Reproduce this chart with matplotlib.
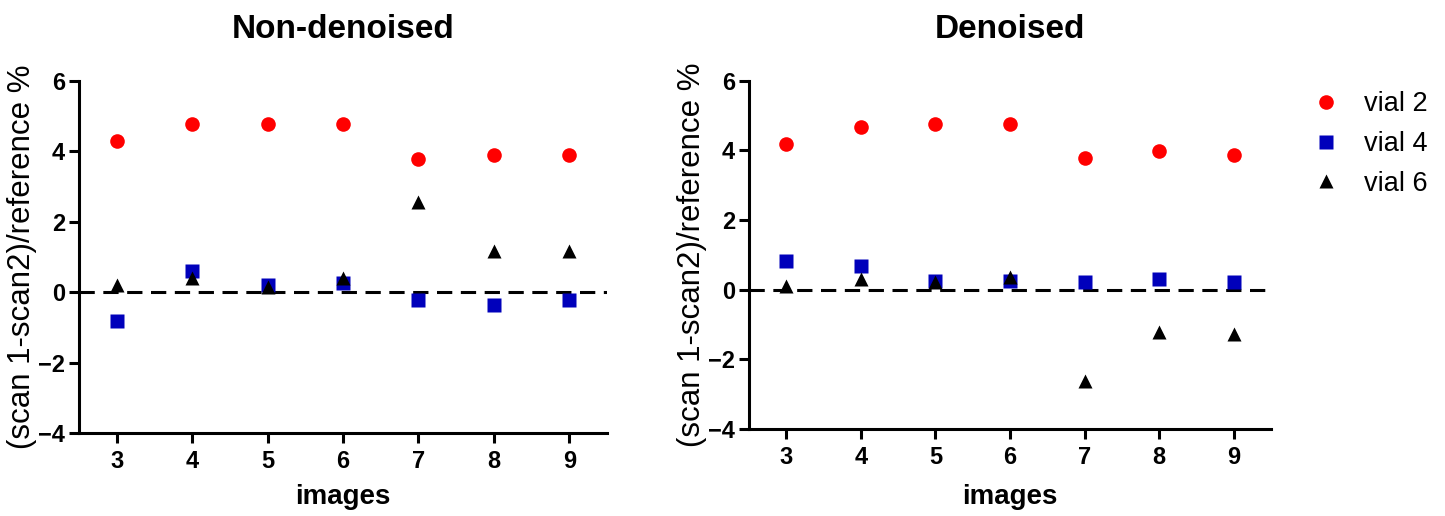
import matplotlib
matplotlib.use('Agg')
import matplotlib.pyplot as plt

plt.rcParams['font.family'] = ['Liberation Sans', 'DejaVu Sans']

images = [3, 4, 5, 6, 7, 8, 9]
labels = ['vial 2', 'vial 4', 'vial 6']

# non-denoised
nd_vial2 = [4.28, 4.78, 4.78, 4.78, 3.79, 3.88, 3.88]
nd_vial4 = [-0.83, 0.59, 0.21, 0.25, -0.23, -0.38, -0.23]
nd_vial6 = [0.20, 0.41, 0.14, 0.39, 2.57, 1.16, 1.16]

# denoised
d_vial2 = [4.17, 4.68, 4.77, 4.77, 3.78, 3.98, 3.87]
d_vial4 = [0.81, 0.68, 0.25, 0.25, 0.21, 0.32, 0.21]
d_vial6 = [0.12, 0.32, 0.21, 0.36, -2.61, -1.22, -1.27]

W, H = 1445, 516
fig = plt.figure(figsize=(W / 100, H / 100), dpi=100)

styles = [dict(marker='o', color='#ff0000', ms=10.5),
          dict(marker='s', color='#0000bb', ms=10),
          dict(marker='^', color='black', ms=10)]


def panel(rect, series, title, title_x, label_x):
    ax = fig.add_axes(rect)
    ax.axhline(0, color='black', lw=2.2, ls=(0, (5, 2.8)), zorder=1)
    handles = []
    for y, st, lab in zip(series, styles, labels):
        h, = ax.plot(images, y, ls='none', mec='none', label=lab, zorder=3,
                     marker=st['marker'], color=st['color'], ms=st['ms'])
        handles.append(h)
    ax.set_xlim(2.5, 9.5)
    ax.set_ylim(-4, 6)
    ax.set_xticks(images)
    ax.set_yticks([-4, -2, 0, 2, 4, 6])
    for s in ['top', 'right']:
        ax.spines[s].set_visible(False)
    for s in ['left', 'bottom']:
        ax.spines[s].set_linewidth(2.2)
    ax.tick_params(width=2.2, length=7, labelsize=17, pad=3)
    ax.tick_params(axis='x', pad=5)
    for t in ax.get_xticklabels() + ax.get_yticklabels():
        t.set_fontweight('bold')
    ax.set_ylabel('(scan 1-scan2)/reference %', fontsize=22.5, va='center')
    ax.yaxis.set_label_coords(label_x, 0.5)
    fig.text(title_x / W, 1 - 38 / H, title, fontsize=24, fontweight='bold',
             ha='center', va='baseline')
    fig.text(title_x / W, 1 - 504 / H, 'images', fontsize=20, fontweight='bold',
             ha='center', va='baseline')
    return ax, handles


ax1, _ = panel([79 / W, 83 / H, 528 / W, 352.3 / H],
               [nd_vial2, nd_vial4, nd_vial6], 'Non-denoised', 343, -0.108)
ax2, handles = panel([749 / W, 87 / H, 522 / W, 348.3 / H],
                     [d_vial2, d_vial4, d_vial6], 'Denoised', 1010, -0.109)

fig.legend(handles, labels, loc='center left', bbox_to_anchor=(1312 / W, 1 - 144 / H),
           frameon=False, fontsize=19.5, handlelength=1.0, handletextpad=0.92,
           borderpad=0, borderaxespad=0, labelspacing=0.5)

fig.savefig('out.png', dpi=100)
